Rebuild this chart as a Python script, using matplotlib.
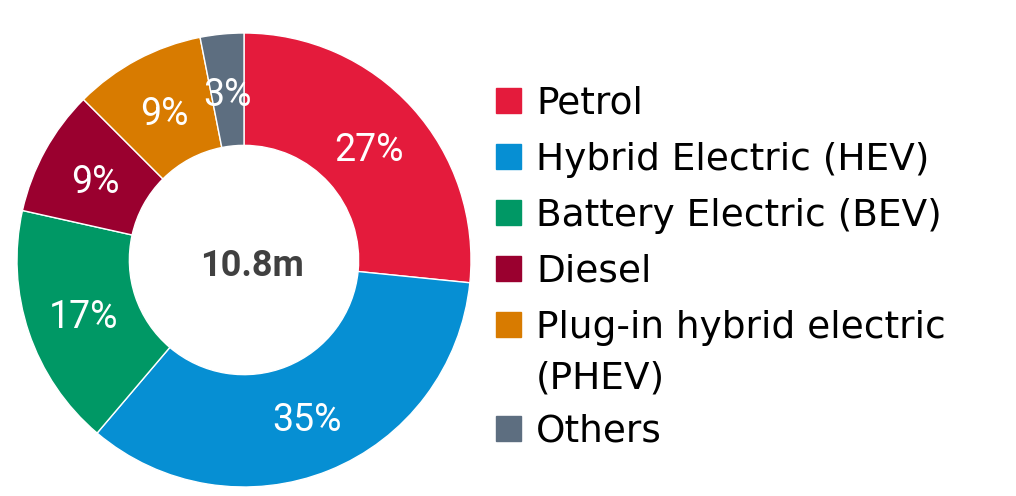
import matplotlib.pyplot as plt
from matplotlib.patches import Rectangle

LABELS = ["Petrol", "Hybrid Electric (HEV)", "Battery Electric (BEV)", "Diesel",
          "Plug-in hybrid electric\n(PHEV)", "Others"]
SHARES = [26.6, 34.6, 17.3, 9.0, 9.4, 3.1]
COLORS = ["#E41B3C", "#068FD3", "#009865", "#9A002F", "#D87B00", "#5D6E80"]
TOTAL = "10.8m"

fig = plt.figure(figsize=(10.16, 4.96), dpi=100)
W, H = 1016, 496

# donut: centre (244, 260) px, radius 227 px
cx, cy, r = 244, 260, 227
ax = fig.add_axes([(cx - r) / W, (H - cy - r) / H, 2 * r / W, 2 * r / H])
wedges, _, autotexts = ax.pie(
    SHARES, colors=COLORS, startangle=90, counterclock=False, radius=1,
    autopct="%.0f%%", pctdistance=0.745,
    wedgeprops=dict(width=0.495, edgecolor="white", linewidth=1),
    textprops=dict(color="white", fontsize=27, family=["Roboto", "DejaVu Sans"]))
for t in autotexts:
    t.set_va("center_baseline")
ax.set_xlim(-1, 1)
ax.set_ylim(-1, 1)
ax.set_aspect("equal")
ax.text(0.035, -0.01, TOTAL, ha="center", va="center_baseline", fontsize=26,
        fontweight="bold", color="#404040", family=["Roboto", "DejaVu Sans"])

# ── Legend (drawn by hand so the square sits on the first line) ─────────────
y = 100
for label, color in zip(LABELS, COLORS):
    fig.patches.append(Rectangle((496 / W, (H - y - 12.5) / H), 25 / W, 25 / H,
                                 transform=fig.transFigure, color=color))
    lines = label.split("\n")
    for k, line in enumerate(lines):
        fig.text(536 / W, (H - y - 50 * k - 14) / H, line, ha="left",
                 va="baseline", fontsize=27, color="black", family="DejaVu Sans")
    y += 56 + 48 * (len(lines) - 1)

fig.savefig("out.png", dpi=100, facecolor="white")
